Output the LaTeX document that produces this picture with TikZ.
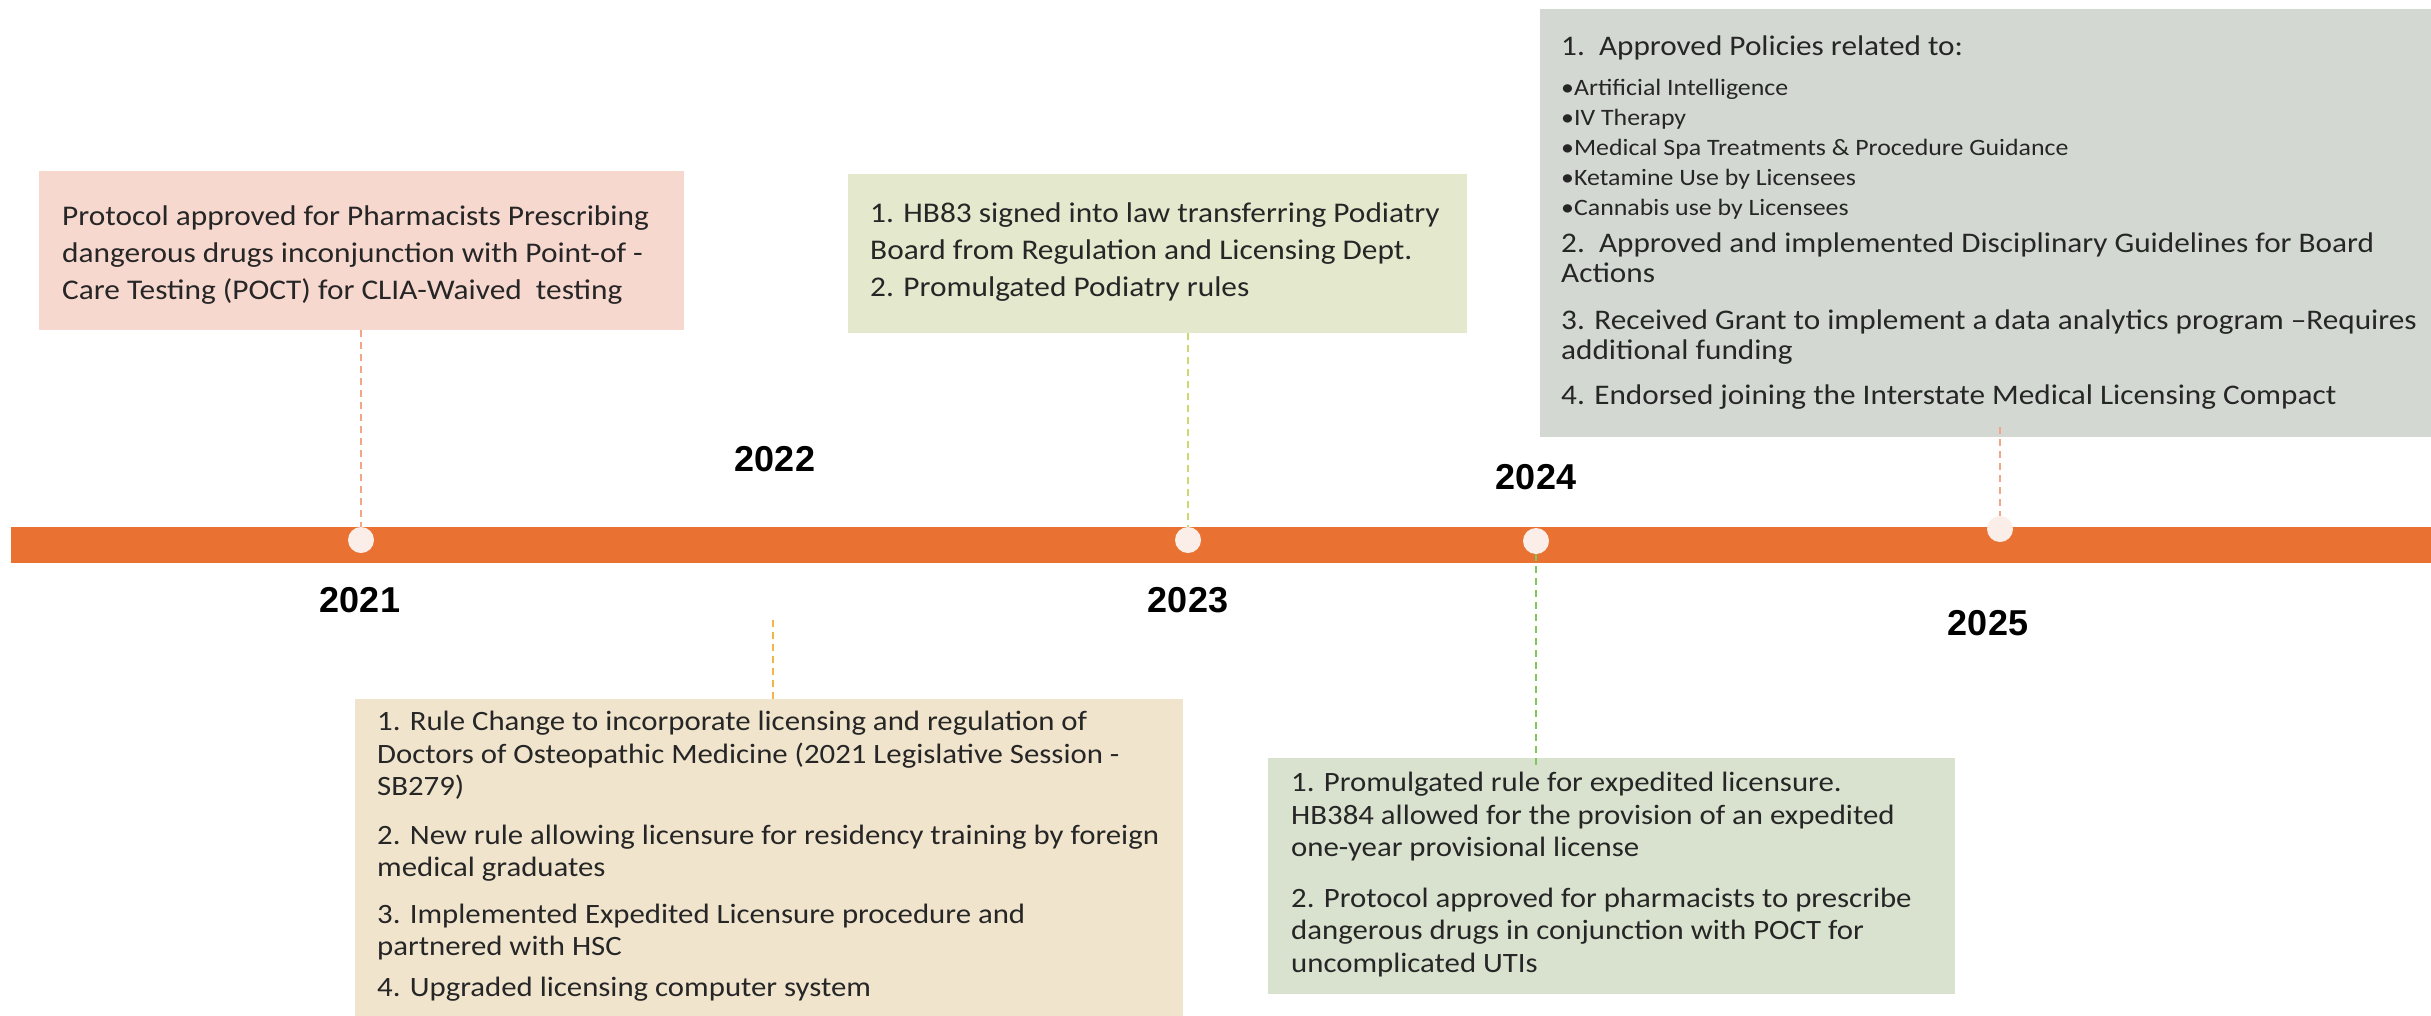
\documentclass[tikz,border=0pt]{standalone}
\usepackage{fontspec}
\setmainfont{Carlito}[FakeStretch=1.1]
\setsansfont{Liberation Sans}
\begin{document}
\definecolor{barorange}{HTML}{E97132}
\definecolor{dotfill}{HTML}{FBEEE8}
\definecolor{ink}{HTML}{262626}
\definecolor{fillA}{HTML}{F7D8CF}
\definecolor{fillB}{HTML}{F0E4CD}
\definecolor{fillC}{HTML}{E4E8CD}
\definecolor{fillD}{HTML}{D8E2CE}
\definecolor{fillE}{HTML}{D3D9D2}
\definecolor{leadA}{HTML}{F4A585}
\definecolor{leadB}{HTML}{F2B544}
\definecolor{leadC}{HTML}{CDD86E}
\definecolor{leadD}{HTML}{82C55A}
\begin{tikzpicture}[x=1pt,y=-1pt,
  panel/.style={draw=none, inner sep=0pt, anchor=north west},
  note/.style={anchor=north west, inner sep=0pt, align=left, text=ink},
  year/.style={font=\sffamily\bfseries\fontsize{36}{40}\selectfont, text=black},
  dot/.style={circle, fill=dotfill, minimum size=26pt, inner sep=0pt},
  leader/.style={line width=2pt, dash pattern=on 7pt off 5pt}]
\useasboundingbox[fill=white] (0,0) rectangle (2431,1015);

% timeline bar
\fill[barorange] (11,527) rectangle (2431,563);

% milestones on the bar
\node[dot] (c21) at (361,540) {};
\node[dot] (c23) at (1188,540) {};
\node[dot] (c24) at (1536,541) {};
\node[dot] (c25) at (2000,529) {};

% year labels
\node[year] (y21) at (360,600) {2021};
\node[year] (y22) at (775,459) {2022};
\node[year] (y23) at (1188,600) {2023};
\node[year] (y24) at (1536,477) {2024};
\node[year] (y25) at (1988,623) {2025};

% 2021
\node[panel, fill=fillA, minimum width=645pt, minimum height=159pt] (b21) at (39,171) {};
\node[note, font=\fontsize{28.5}{37}\selectfont] (t21) at (62,206)
  {Protocol approved for Pharmacists Prescribing\\
   dangerous drugs inconjunction with Point-of -\\
   Care Testing (POCT) for CLIA-Waived\ \ testing};
\draw[leader, leadA] (b21.south -| c21) -- (c21.north);

% 2022
\node[panel, fill=fillB, minimum width=828pt, minimum height=320pt] (b22) at (355,699) {};
\node[note, font=\fontsize{28}{32.5}\selectfont] (t22) at (377,711)
  {1. Rule Change to incorporate licensing and regulation of\\
   Doctors of Osteopathic Medicine (2021 Legislative Session -\\
   SB279)\\[16pt]
   2. New rule allowing licensure for residency training by foreign\\
   medical graduates\\[14pt]
   3. Implemented Expedited Licensure procedure and\\
   partnered with HSC\\[8pt]
   4. Upgraded licensing computer system};
\coordinate (f22) at (773,620);
\draw[leader, leadB] (f22) -- (f22 |- b22.north) ++(0,-9);

% 2023
\node[panel, fill=fillC, minimum width=619pt, minimum height=159pt] (b23) at (848,174) {};
\node[note, font=\fontsize{28.5}{37}\selectfont] (t23) at (870,203)
  {1. HB83 signed into law transferring Podiatry\\
   Board from Regulation and Licensing Dept.\\
   2. Promulgated Podiatry rules};
\draw[leader, leadC] (c23 |- b23.south) -- (c23.north);

% 2024
\node[panel, fill=fillD, minimum width=687pt, minimum height=236pt] (b24) at (1268,758) {};
\node[note, font=\fontsize{28}{32.5}\selectfont] (t24) at (1291,772)
  {1. Promulgated rule for expedited licensure.\\
   HB384 allowed for the provision of an expedited\\
   one-year provisional license\\[18pt]
   2. Protocol approved for pharmacists to prescribe\\
   dangerous drugs in conjunction with POCT for\\
   uncomplicated UTIs};
\draw[leader, leadD] (c24.south) -- ([yshift=-8pt]c24 |- b24.north);

% 2025
\node[panel, fill=fillE, minimum width=891pt, minimum height=428pt] (b25) at (1540,9) {};
\node[note, font=\fontsize{28.4}{30}\selectfont] (t25) at (1561,36)
  {1.\ \ Approved Policies related to:\\[10pt]
   {\fontsize{23.5}{24}\selectfont\textbullet Artificial Intelligence}\\
   {\fontsize{23.5}{24}\selectfont\textbullet IV Therapy}\\
   {\fontsize{23.5}{24}\selectfont\textbullet Medical Spa Treatments \& Procedure Guidance}\\
   {\fontsize{23.5}{24}\selectfont\textbullet Ketamine Use by Licensees}\\
   {\fontsize{23.5}{24}\selectfont\textbullet Cannabis use by Licensees}\\[7pt]
   2.\ \ Approved and implemented Disciplinary Guidelines for Board\\
   Actions\\[17pt]
   3. Received Grant to implement a data analytics program --Requires\\
   additional funding\\[15pt]
   4. Endorsed joining the Interstate Medical Licensing Compact};
\draw[leader, leadA] ([yshift=10pt]c25 |- b25.south) -- (c25.north);
\end{tikzpicture}
\end{document}
